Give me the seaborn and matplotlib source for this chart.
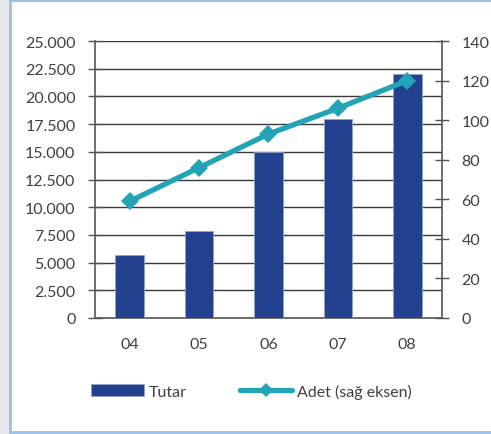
import numpy as np
import pandas as pd
import matplotlib
matplotlib.use("Agg")
import matplotlib.pyplot as plt
from matplotlib.ticker import FuncFormatter, FixedLocator
from matplotlib.patches import Rectangle
from matplotlib.lines import Line2D
import seaborn as sns

# Data
years = ["04", "05", "06", "07", "08"]
tutar = [5700, 7850, 15000, 18000, 22000]      # left axis
adet = [59, 76, 93, 106, 120]                  # right axis (sağ eksen)
left_ticks = [0, 2500, 5000, 7500, 10000, 12500, 15000, 17500, 20000, 22500, 25000]
right_ticks = [0, 20, 40, 60, 80, 100, 120, 140]

BAR_COLOR = "#24418F"
LINE_COLOR = "#22A3B6"
GRID_COLOR = "#3a3a3a"
SPINE_COLOR = "#555555"
TEXT_COLOR = "#404040"
FRAME_BLUE = "#9DC3E8"

sns.set_theme(style="white")
plt.rcParams["font.family"] = ["Lato", "DejaVu Sans"]

fig = plt.figure(figsize=(4.91, 4.35), dpi=100)
fig.patch.set_facecolor("white")

# Outer frame: grey strip on the left, blue border lines
fig.patches.append(Rectangle((0, 0), 9 / 491, 1, transform=fig.transFigure,
                             facecolor="#E8E8EA", edgecolor="none", zorder=-2))
fig.patches.append(Rectangle((9 / 491, 0), 2.5 / 491, 1, transform=fig.transFigure,
                             facecolor=FRAME_BLUE, edgecolor="none", zorder=-1))
fig.patches.append(Rectangle((9 / 491, 1 - 2.5 / 435), 1, 2.5 / 435, transform=fig.transFigure,
                             facecolor=FRAME_BLUE, edgecolor="none", zorder=-1))
fig.patches.append(Rectangle((9 / 491, 0), 1, 3 / 435, transform=fig.transFigure,
                             facecolor=FRAME_BLUE, edgecolor="none", zorder=-1))

ax = fig.add_axes([95 / 491, 1 - 319 / 435, 347 / 491, 277 / 435])
df = pd.DataFrame({"Yıl": years, "Tutar": tutar, "Adet": adet})

sns.barplot(data=df, x="Yıl", y="Tutar", ax=ax, color=BAR_COLOR, saturation=1,
            width=0.41, edgecolor="#8FA3D0", linewidth=0.6, zorder=3)

ax.set_xlim(-0.5, len(years) - 0.5)
ax.set_ylim(0, 25000)
ax.yaxis.set_major_locator(FixedLocator(left_ticks))
ax.yaxis.set_major_formatter(FuncFormatter(lambda v, p: f"{int(v):,}".replace(",", ".")))
ax.set_xlabel("")
ax.set_ylabel("")

# Category labels centred under bars, tick marks at category boundaries
ax.set_xticks(np.arange(len(years) + 1) - 0.5)
ax.set_xticklabels([])
ax.set_xticks(np.arange(len(years)), minor=True)
ax.set_xticklabels(years, minor=True)
ax.tick_params(axis="x", which="major", direction="inout", length=9, width=1, color=SPINE_COLOR)
ax.tick_params(axis="x", which="minor", length=0, pad=14, labelsize=11.5, labelcolor=TEXT_COLOR)
ax.tick_params(axis="y", direction="inout", length=10, width=1, color=SPINE_COLOR,
               pad=9, labelsize=11.5, labelcolor=TEXT_COLOR, left=True)

ax.grid(axis="y", color=GRID_COLOR, linewidth=1, zorder=0)
ax.set_axisbelow(True)
for side in ["left", "right", "bottom"]:
    ax.spines[side].set_color(SPINE_COLOR)
    ax.spines[side].set_linewidth(1.2)
ax.spines["top"].set_visible(False)

ax2 = ax.twinx()
sns.lineplot(x=np.arange(len(years)), y=adet, ax=ax2, color=LINE_COLOR, linewidth=3.8,
             marker="D", markersize=9.5, markeredgewidth=0, zorder=4)
ax2.set_ylim(0, 140)
ax2.yaxis.set_major_locator(FixedLocator(right_ticks))
ax2.tick_params(axis="y", direction="inout", length=10, width=1, color=SPINE_COLOR,
                pad=9, labelsize=11.5, labelcolor=TEXT_COLOR, right=True)
ax2.set_ylabel("")
ax2.grid(False)
for side in ["left", "right", "bottom", "top"]:
    ax2.spines[side].set_visible(False)
ax.spines["right"].set_visible(True)

# Legend below the plot
handles = [
    Rectangle((0, 0), 1, 1, facecolor=BAR_COLOR, edgecolor="#8FA3D0", linewidth=0.6),
    Line2D([0], [0], color=LINE_COLOR, linewidth=3.8, marker="D", markersize=7.5, markeredgewidth=0),
]
fig.legend(handles, ["Tutar", "Adet (sağ eksen)"], loc="center left",
           bbox_to_anchor=(85 / 491, 1 - 392 / 435), ncol=2, frameon=False,
           fontsize=11.5, handlelength=3.3, handleheight=0.75, handletextpad=0.3,
           columnspacing=3.3, labelcolor=TEXT_COLOR, borderaxespad=0)

fig.savefig("out.png", dpi=100)
